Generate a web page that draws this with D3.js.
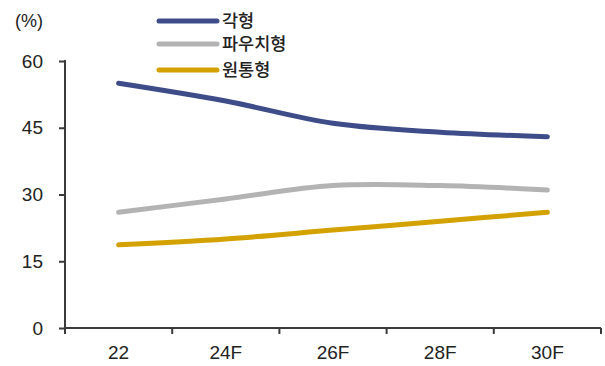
<!DOCTYPE html>
<html>
<head>
<meta charset="utf-8">
<script src="https://cdn.jsdelivr.net/npm/d3@7/dist/d3.min.js"></script>
<style>
  html, body { margin: 0; padding: 0; background: #fff; }
  svg { display: block; }
  text { font-family: "Liberation Sans", Arial, "Noto Sans CJK KR", sans-serif; fill: #222; }
</style>
</head>
<body>
<svg id="chart" width="605" height="366"></svg>
<script>
// Categories (years) and battery-format share series (%)
const categories = ["22", "24F", "26F", "28F", "30F"];
const seriesNames = ["각형", "파우치형", "원통형"];
const prismatic = [55, 51, 46, 44, 43];
const pouch = [26, 29, 32, 32, 31];
const cylindrical = [18.7, 20, 22, 24, 26];
const yTicks = [0, 15, 30, 45, 60];
const unitLabel = "(%)";

const series = [
  { name: seriesNames[0], values: prismatic, color: "#3e4d8a" },
  { name: seriesNames[1], values: pouch, color: "#b3b3b3" },
  { name: seriesNames[2], values: cylindrical, color: "#d4a200" }
];

const svg = d3.select("#chart");
const plotLeft = 65, plotRight = 601, plotTop = 61, plotBottom = 328;

const x = d3.scaleBand().domain(categories).range([plotLeft, plotRight]).padding(0);
const y = d3.scaleLinear().domain([0, 60]).range([plotBottom, plotTop]);
const cx = d => x(d) + x.bandwidth() / 2;

const axisColor = "#3a3a3a";
const tickFont = "Liberation Sans, Arial, sans-serif";

// Y axis
const yAxis = svg.append("g")
  .attr("transform", `translate(${plotLeft},0)`)
  .call(d3.axisLeft(y).tickValues(yTicks).tickSize(6).tickPadding(16));
yAxis.select(".domain").attr("stroke", axisColor).attr("stroke-width", 2)
  .attr("d", `M0,${plotTop - 1}V${plotBottom}`);
yAxis.selectAll(".tick line").attr("stroke", axisColor).attr("stroke-width", 2);
yAxis.selectAll(".tick text").attr("font-size", 19).attr("fill", "#222")
  .attr("font-family", tickFont);

// X axis: labels centred in bands, tick marks on band boundaries
const xAxis = svg.append("g")
  .attr("transform", `translate(0,${plotBottom})`)
  .call(d3.axisBottom(x).tickSize(0).tickPadding(18));
xAxis.select(".domain").attr("stroke", axisColor).attr("stroke-width", 2)
  .attr("d", `M${plotLeft},0H${plotRight}`);
xAxis.selectAll(".tick text").attr("font-size", 19).attr("fill", "#222")
  .attr("font-family", tickFont);
const boundaries = categories.map(c => x(c)).concat([plotRight]);
xAxis.selectAll("line.bound").data(boundaries).enter().append("line")
  .attr("class", "bound")
  .attr("x1", d => d).attr("x2", d => d)
  .attr("y1", 0).attr("y2", 6)
  .attr("stroke", axisColor).attr("stroke-width", 2);

// Unit label
svg.append("text").attr("x", 15).attr("y", 27)
  .attr("font-size", 18).attr("font-family", tickFont).text(unitLabel);

// Lines
const line = d3.line()
  .x((d, i) => cx(categories[i]))
  .y(d => y(d))
  .curve(d3.curveCatmullRom.alpha(0.5));

svg.selectAll("path.series").data(series).enter().append("path")
  .attr("class", "series")
  .attr("d", d => line(d.values))
  .attr("fill", "none")
  .attr("stroke", d => d.color)
  .attr("stroke-width", 5)
  .attr("stroke-linecap", "round");

// Legend
const legendY = [21, 44, 70];
const legend = svg.selectAll("g.legend").data(series).enter().append("g")
  .attr("class", "legend")
  .attr("transform", (d, i) => `translate(159,${legendY[i]})`);
legend.append("line")
  .attr("x1", 0).attr("x2", 58).attr("y1", 0).attr("y2", 0)
  .attr("stroke", d => d.color).attr("stroke-width", 5)
  .attr("stroke-linecap", "round");
legend.append("text")
  .attr("x", 63).attr("y", 6)
  .attr("font-size", 17.5)
  .attr("font-family", "Noto Sans CJK KR, sans-serif")
  .attr("font-weight", 500)
  .attr("fill", "#222")
  .text(d => d.name);
</script>
</body>
</html>
